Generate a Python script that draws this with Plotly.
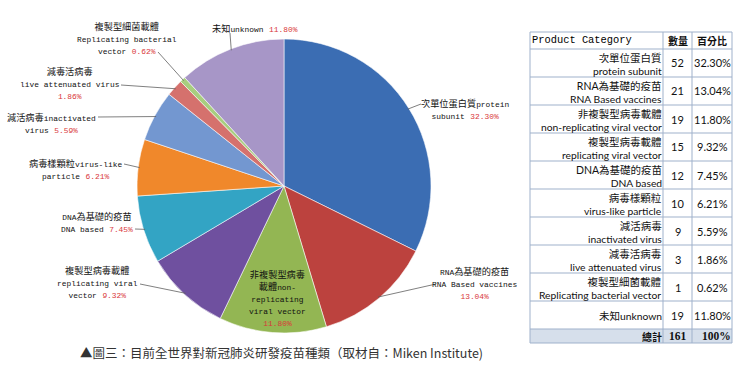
import math
import re
import plotly.graph_objects as go

# ---------------- data ----------------
names_zh = ["次單位蛋白質", "RNA為基礎的疫苗", "非複製型病毒載體", "複製型病毒載體",
            "DNA為基礎的疫苗", "病毒樣顆粒", "減活病毒", "減毒活病毒",
            "複製型細菌載體", "未知"]
names_en = ["protein subunit", "RNA Based vaccines", "non-replicating viral vector",
            "replicating viral vector", "DNA based", "virus-like particle",
            "inactivated virus", "live attenuated virus",
            "Replicating bacterial vector", "unknown"]
counts = [52, 21, 19, 15, 12, 10, 9, 3, 1, 19]
header_labels = ["Product Category", "數量", "百分比"]
total_label = "總計"
total_pct_label = "100%"
caption = "▲圖三：目前全世界對新冠肺炎研發疫苗種類（取材自：Miken Institute)"

colors = ["#3B6DB3", "#BC423E", "#93B653", "#6F509F", "#33A4C4",
          "#F0882B", "#7397D0", "#D5716D", "#A8CE7F", "#A796C7"]

total = sum(counts)
pcts = [f"{c / total * 100:.2f}%" for c in counts]

W, H = 750, 378
CX, CY, R = 284, 186, 147


def px(x):
    return x / W


def py(y):
    return 1 - y / H


LAT = 7.9
RED = "#D9383A"


def fmt(s):
    """wrap ascii runs in smaller span (SimSun-like half width latin)"""
    out = []
    for run in re.findall(r"[\x00-\x7f]+|[^\x00-\x7f]+", s):
        if re.match(r"[\x00-\x7f]", run):
            out.append(f"<span style='font-size:{LAT}px'>{run}</span>")
        else:
            out.append(run)
    return "".join(out)


def line_with_pct(s, p):
    return fmt(s) + (" " if s else "") + f"<span style='font-size:{LAT}px;color:{RED}'>{p}</span>"


# label layout: lines (last line gets percentage), centre x, top y, leader start
label_layout = [
    (["次單位蛋白質protein", "subunit"], 466, 96, (421, 104)),
    (["RNA為基礎的疫苗", "RNA Based vaccines", ""], 474, 264, (436, 284)),
    (["非複製型病毒", "載體non-", "replicating", "viral vector", ""], 277, 267, None),
    (["複製型病毒載體", "replicating viral", "vector"], 98, 263, (140, 284)),
    (["DNA為基礎的疫苗", "DNA based"], 97, 209, (135, 229)),
    (["病毒樣顆粒virus-like", "particle"], 76, 156, (124, 164)),
    (["減活病毒inactivated", "virus"], 51, 110, (98, 117)),
    (["減毒活病毒", "live attenuated virus", ""], 70, 64, (121, 85)),
    (["複製型細菌載體", "Replicating bacterial", "vector"], 127, 19, (158, 52)),
    (["未知unknown"], 255, 21, (230, 33)),
]

cum = [sum(counts[:i]) for i in range(len(counts))]


def pie_pt(i, rf=1.0):
    frac = (cum[i] + counts[i] / 2) / total
    th = 2 * math.pi * frac
    return CX + R * rf * math.sin(th), CY - R * rf * math.cos(th)


fig = go.Figure()

fig.add_trace(go.Pie(
    values=counts,
    labels=[f"{z} {e}" for z, e in zip(names_zh, names_en)],
    marker=dict(colors=colors, line=dict(color="rgba(255,255,255,0.7)", width=0.8)),
    sort=False,
    direction="clockwise",
    rotation=0,
    textinfo="none",
    hoverinfo="label+value+percent",
    showlegend=False,
    domain=dict(x=[px(CX - R), px(CX + R)], y=[py(CY + R), py(CY - R)]),
))

annotations = []
shapes = []
for i, (lines, cx, ytop, lead) in enumerate(label_layout):
    parts = [fmt(l) for l in lines[:-1]] + [line_with_pct(lines[-1], pcts[i])]
    annotations.append(dict(
        x=px(cx), y=py(ytop), xref="paper", yref="paper",
        xanchor="center", yanchor="top", showarrow=False,
        text="<br>".join(parts), align="center",
        font=dict(family="Liberation Mono, Noto Sans CJK TC", size=9.2, color="#111111"),
    ))
    if lead is not None:
        ex, ey = pie_pt(i, 0.99)
        shapes.append(dict(type="line", xref="paper", yref="paper",
                           x0=px(lead[0]), y0=py(lead[1]), x1=px(ex), y1=py(ey),
                           line=dict(color="#606060", width=0.8)))

annotations.append(dict(
    x=px(281), y=py(352), xref="paper", yref="paper", xanchor="center", yanchor="middle",
    showarrow=False, text=caption,
    font=dict(family="Noto Sans CJK TC", size=12.5, color="#333333"),
))

# ---------------- table (grid drawn with shapes, text with annotations) ----------------
TX = [530, 663, 692, 732]          # column edges
T_TOP, T_HDR, T_ROW, T_TOT = 32, 17, 28, 14
nrows = len(counts)
row_tops = [T_TOP + T_HDR + T_ROW * i for i in range(nrows)]
tot_top = T_TOP + T_HDR + T_ROW * nrows
t_bot = tot_top + T_TOT
border = "#9FB1CB"

# total row fill
shapes.append(dict(type="rect", xref="paper", yref="paper", layer="below",
                   x0=px(TX[0]), x1=px(TX[-1]), y0=py(t_bot), y1=py(tot_top),
                   fillcolor="#D6DFEB", line=dict(width=0)))
# horizontal lines
for yy in [T_TOP, T_TOP + T_HDR] + row_tops[1:] + [tot_top, t_bot]:
    shapes.append(dict(type="line", xref="paper", yref="paper",
                       x0=px(TX[0]), x1=px(TX[-1]), y0=py(yy), y1=py(yy),
                       line=dict(color=border, width=1)))
# vertical lines
for xx in TX:
    shapes.append(dict(type="line", xref="paper", yref="paper",
                       x0=px(xx), x1=px(xx), y0=py(T_TOP), y1=py(t_bot),
                       line=dict(color=border, width=1)))

# header texts
hy = T_TOP + T_HDR / 2
annotations.append(dict(x=px(TX[0]), y=py(hy), xref="paper", yref="paper",
                        xanchor="left", yanchor="middle", showarrow=False,
                        text=header_labels[0],
                        font=dict(family="Liberation Mono", size=10.4, color="#000000")))
for j in (1, 2):
    annotations.append(dict(x=px((TX[j] + TX[j + 1]) / 2), y=py(hy), xref="paper", yref="paper",
                            xanchor="center", yanchor="middle", showarrow=False,
                            text=f"<b>{header_labels[j]}</b>",
                            font=dict(family="Noto Sans CJK TC", size=10, color="#111111")))

# data rows
for i in range(nrows):
    top = row_tops[i]
    mid = top + T_ROW / 2
    if names_zh[i] == "未知":
        txt = f"<span style='font-size:10.5px'>{names_zh[i]}</span>{names_en[i]}"
    else:
        txt = f"<span style='font-size:10.5px'>{names_zh[i]}</span><br>{names_en[i]}"
    annotations.append(dict(x=px(TX[1] + 1), y=py(mid + 1), xref="paper", yref="paper",
                            xanchor="right", yanchor="middle", showarrow=False, align="right",
                            text=txt,
                            font=dict(family="Lato, Noto Sans CJK TC", size=10.3, color="#111111")))
    annotations.append(dict(x=px((TX[1] + TX[2]) / 2), y=py(mid), xref="paper", yref="paper",
                            xanchor="center", yanchor="middle", showarrow=False,
                            text=str(counts[i]),
                            font=dict(family="Lato", size=11, color="#111111")))
    annotations.append(dict(x=px((TX[2] + TX[3]) / 2), y=py(mid), xref="paper", yref="paper",
                            xanchor="center", yanchor="middle", showarrow=False,
                            text=pcts[i],
                            font=dict(family="Lato", size=11, color="#111111")))

# total row
ty = tot_top + T_TOT / 2
annotations.append(dict(x=px(TX[1] + 1), y=py(ty), xref="paper", yref="paper",
                        xanchor="right", yanchor="middle", showarrow=False,
                        text=f"<b>{total_label}</b>",
                        font=dict(family="Noto Sans CJK TC", size=10, color="#111111")))
annotations.append(dict(x=px((TX[1] + TX[2]) / 2), y=py(ty), xref="paper", yref="paper",
                        xanchor="center", yanchor="middle", showarrow=False,
                        text=f"<b>{total}</b>",
                        font=dict(family="Liberation Serif", size=11.5, color="#111111")))
annotations.append(dict(x=px(TX[3] + 1), y=py(ty), xref="paper", yref="paper",
                        xanchor="right", yanchor="middle", showarrow=False,
                        text=f"<b>{total_pct_label}</b>",
                        font=dict(family="Liberation Serif", size=11.5, color="#111111")))

fig.update_layout(
    width=W, height=H,
    margin=dict(l=0, r=0, t=0, b=0),
    paper_bgcolor="white", plot_bgcolor="white",
    annotations=annotations, shapes=shapes,
)

fig.write_html("out.html")
